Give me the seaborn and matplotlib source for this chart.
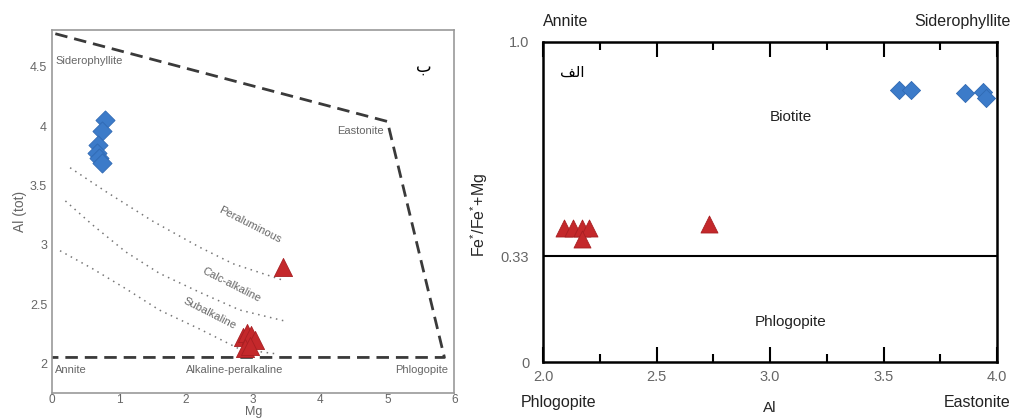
import numpy as np
import pandas as pd
import matplotlib
matplotlib.use("Agg")
import matplotlib.pyplot as plt
from matplotlib.ticker import MultipleLocator, FixedLocator
import seaborn as sns

# ---------------- datos panel izquierdo (Al tot vs Mg) ----------------
mg_azul = [0.79, 0.75, 0.69, 0.67, 0.70, 0.75]
al_azul = [4.05, 3.96, 3.84, 3.77, 3.73, 3.69]
mg_rojo = [3.44, 2.85, 2.90, 2.97, 3.02, 2.88, 2.95]
al_rojo = [2.81, 2.22, 2.26, 2.24, 2.20, 2.13, 2.15]

borde_mg = [0.05, 5.0, 5.85, 0.0]
borde_al = [4.78, 4.04, 2.05, 2.05]

peral_mg = [0.27, 0.8, 1.5, 2.2, 2.7, 3.45]
peral_al = [3.65, 3.45, 3.2, 2.98, 2.84, 2.70]
calc_mg = [0.2, 0.6, 1.1, 1.6, 2.2, 2.8, 3.45]
calc_al = [3.37, 3.17, 2.94, 2.76, 2.60, 2.45, 2.36]
subalc_mg = [0.12, 0.6, 1.1, 1.6, 2.2, 2.8, 3.35]
subalc_al = [2.95, 2.80, 2.63, 2.45, 2.29, 2.12, 2.08]

# ---------------- datos panel derecho (Fe/Fe+Mg vs Al) ----------------
al_azul_d = [3.57, 3.62, 3.86, 3.94, 3.95]
fe_azul_d = [0.85, 0.85, 0.84, 0.845, 0.825]
al_rojo_d = [2.09, 2.13, 2.17, 2.20, 2.17, 2.73]
fe_rojo_d = [0.42, 0.42, 0.42, 0.42, 0.385, 0.43]

xticks_d = [2.0, 2.5, 3.0, 3.5, 4.0]
yticks_d = [0, 0.33, 1.0]
ytick_lbl_d = ["0", "0.33", "1.0"]

AZUL = "#3c7bc9"
ROJO = "#c4282b"
GRIS = "#666666"

sns.set_style("white")
plt.rcParams["font.family"] = ["Liberation Sans", "DejaVu Sans"]
plt.rcParams["mathtext.fontset"] = "custom"
plt.rcParams["mathtext.rm"] = "Liberation Sans"

fig = plt.figure(figsize=(10.19, 4.19), dpi=100)
ax1 = fig.add_axes([0.051, 0.062, 0.395, 0.866])
ax2 = fig.add_axes([0.533, 0.136, 0.4455, 0.764])

# ---------------- panel izquierdo ----------------
ax1.plot(borde_mg, borde_al, color="#3a3a3a", lw=2, ls=(0, (4.5, 2.5)))
for xs, ys in [(peral_mg, peral_al), (calc_mg, calc_al), (subalc_mg, subalc_al)]:
    ax1.plot(xs, ys, color="#777777", lw=1.1, ls=(0, (1, 3)))

izq_azul = pd.DataFrame({"Mg": mg_azul, "Al": al_azul})
izq_rojo = pd.DataFrame({"Mg": mg_rojo, "Al": al_rojo})
sns.scatterplot(data=izq_azul, x="Mg", y="Al", marker="D", s=95, color=AZUL,
                edgecolor="#2f69b3", linewidth=0.6, ax=ax1, zorder=3)
sns.scatterplot(data=izq_rojo, x="Mg", y="Al", marker="^", s=170, color=ROJO,
                edgecolor="#a81f22", linewidth=0.6, ax=ax1, zorder=3)

ax1.set_xlim(0, 6)
ax1.set_ylim(1.75, 4.81)
ax1.xaxis.set_major_locator(MultipleLocator(1))
ax1.xaxis.set_minor_locator(MultipleLocator(0.5))
ax1.yaxis.set_major_locator(FixedLocator([2, 2.5, 3, 3.5, 4, 4.5]))
ax1.yaxis.set_minor_locator(FixedLocator([2.25, 2.75, 3.25, 3.75, 4.25]))
ax1.set_yticklabels(["2", "2.5", "3", "3.5", "4", "4.5"])
ax1.tick_params(which="both", direction="in", colors="#777777", labelcolor=GRIS,
                labelsize=9)
ax1.tick_params(axis="y", which="both", length=12, width=1.2)
ax1.tick_params(axis="x", which="both", length=7, width=1.2, labelsize=8.5, pad=1)
for s in ax1.spines.values():
    s.set_color("#999999")
    s.set_linewidth(1.2)
ax1.set_xlabel("Mg", fontsize=9, color=GRIS, labelpad=0)
ax1.set_ylabel("Al (tot)", fontsize=10, color=GRIS, labelpad=2)

et = dict(fontsize=8, color=GRIS)
ax1.text(0.05, 4.55, "Siderophyllite", ha="left", va="center", **et)
ax1.text(4.95, 3.96, "Eastonite", ha="right", va="center", **et)
ax1.text(0.05, 1.94, "Annite", ha="left", va="center", **et)
ax1.text(2.72, 1.94, "Alkaline-peralkaline", ha="center", va="center", **et)
ax1.text(5.9, 1.94, "Phlogopite", ha="right", va="center", **et)
ax1.text(2.95, 3.17, "Peraluminous", rotation=-27, ha="center", va="center", **et)
ax1.text(2.68, 2.66, "Calc-alkaline", rotation=-27, ha="center", va="center", **et)
ax1.text(2.35, 2.42, "Subalkaline", rotation=-27, ha="center", va="center", **et)
ax1.text(5.55, 4.5, "\uFE8F", ha="center", va="center", fontsize=12,
         color="black", family=["DejaVu Sans"])

# ---------------- panel derecho ----------------
der_azul = pd.DataFrame({"Al": al_azul_d, "Fe": fe_azul_d})
der_rojo = pd.DataFrame({"Al": al_rojo_d, "Fe": fe_rojo_d})
ax2.axhline(0.33, color="black", lw=1.5)
sns.scatterplot(data=der_azul, x="Al", y="Fe", marker="D", s=85, color=AZUL,
                edgecolor="#2f69b3", linewidth=0.6, ax=ax2, zorder=3)
sns.scatterplot(data=der_rojo, x="Al", y="Fe", marker="^", s=150, color=ROJO,
                edgecolor="#a81f22", linewidth=0.6, ax=ax2, zorder=3)

ax2.set_xlim(2.0, 4.0)
ax2.set_ylim(0, 1.0)
ax2.set_xticks(xticks_d)
ax2.set_xticklabels([f"{v:.1f}" for v in xticks_d])
ax2.xaxis.set_minor_locator(MultipleLocator(0.25))
ax2.set_yticks(yticks_d)
ax2.set_yticklabels(ytick_lbl_d)
ax2.tick_params(axis="x", which="major", direction="in", length=11, width=1.5,
                top=True, bottom=True, colors="black", labelcolor=GRIS,
                labelsize=10.5, pad=6)
ax2.tick_params(axis="x", which="minor", direction="in", length=6, width=1.5,
                top=True, bottom=True, colors="black")
ax2.tick_params(axis="y", length=0, labelcolor=GRIS, labelsize=10.5, pad=10)
for s in ax2.spines.values():
    s.set_color("black")
    s.set_linewidth(1.8)
ax2.set_xlabel("Al", fontsize=11, labelpad=12)
ax2.set_ylabel("Fe$^{*}$/Fe$^{*}$+Mg", fontsize=11.5)
ax2.yaxis.set_label_coords(-0.118, 0.46)

ax2.text(3.09, 0.765, "Biotite", ha="center", va="center", fontsize=11, color="#222222")
ax2.text(3.09, 0.125, "Phlogopite", ha="center", va="center", fontsize=11, color="#222222")
ax2.text(2.13, 0.905, "\uFED2\uFEDF\uFE8D", ha="center", va="center", fontsize=11,
         color="black", family=["DejaVu Sans"])

ax2.text(0.0, 1.0625, "Annite", transform=ax2.transAxes, ha="left", va="center",
         fontsize=11.5, color="#222222")
ax2.text(1.03, 1.0625, "Siderophyllite", transform=ax2.transAxes, ha="right",
         va="center", fontsize=11.5, color="#222222")
ax2.text(-0.05, -0.125, "Phlogopite", transform=ax2.transAxes, ha="left",
         va="center", fontsize=11.5, color="#222222")
ax2.text(1.03, -0.125, "Eastonite", transform=ax2.transAxes, ha="right",
         va="center", fontsize=11.5, color="#222222")

fig.savefig("out.png", dpi=100)
